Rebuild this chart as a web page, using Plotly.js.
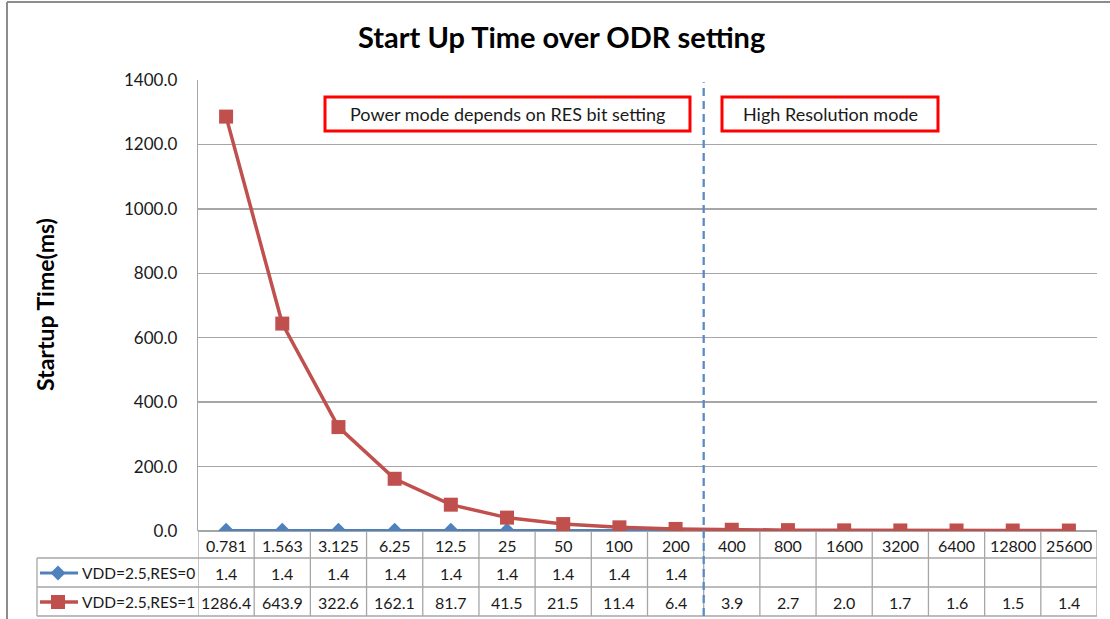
<!DOCTYPE html>
<html>
<head>
<meta charset="utf-8">
<script src="https://cdn.plot.ly/plotly-3.0.1.min.js"></script>
<style>html,body{margin:0;padding:0;background:#fff;}#chart{width:1110px;height:619px;}</style>
</head>
<body>
<div id="chart"></div>
<script>
const categories = ["0.781","1.563","3.125","6.25","12.5","25","50","100","200","400","800","1600","3200","6400","12800","25600"];
const seriesNames = ["VDD=2.5,RES=0","VDD=2.5,RES=1"];
const res0 = [1.4,1.4,1.4,1.4,1.4,1.4,1.4,1.4,1.4,null,null,null,null,null,null,null];
const res1 = [1286.4,643.9,322.6,162.1,81.7,41.5,21.5,11.4,6.4,3.9,2.7,2.0,1.7,1.6,1.5,1.4];
const yTicks = [0,200,400,600,800,1000,1200,1400];
const boxTexts = ["Power mode depends on RES bit setting","High Resolution mode"];

const FONT = "Lato, 'Noto Sans', sans-serif";
const BLUE = "#4F81BD", RED = "#C0504D", GRID = "#a6a6a6", TXT = "#1a1a1a";

// pixel -> paper helpers (plot area: x 198..1097, y 80..531)
const L = 198, R = 1097, T = 80, B = 531;
const px = v => (v - L) / (R - L);
const py = v => (B - v) / (B - T);

const traces = [
  {x: categories, y: res0, name: seriesNames[0], type: "scatter", mode: "lines+markers",
   line: {color: BLUE, width: 3}, marker: {symbol: "diamond", size: 12, color: BLUE}, connectgaps: false},
  {x: categories, y: res1, name: seriesNames[1], type: "scatter", mode: "lines+markers",
   line: {color: RED, width: 3.5}, marker: {symbol: "square", size: 14, color: RED}}
];

const shapes = [];
const annotations = [];
const n = categories.length;
const yHdrBot = py(558), yR1Bot = py(587), yR2Bot = py(616), yLegL = px(37);

function txt(xref, x, y, text, size, extra) {
  return Object.assign({xref: xref, yref: "paper", x: x, y: y, text: text, showarrow: false,
    xanchor: "center", yanchor: "middle", font: {family: FONT, size: size, color: TXT}}, extra || {});
}

// table vertical lines
for (let i = 0; i <= n; i++) {
  shapes.push({type: "line", xref: "x", yref: "paper", x0: i - 0.5, x1: i - 0.5, y0: 0, y1: yR2Bot,
    line: {color: GRID, width: 1.3}});
}
shapes.push({type: "line", xref: "paper", yref: "paper", x0: yLegL, x1: yLegL, y0: yHdrBot, y1: yR2Bot, line: {color: GRID, width: 1.3}});
[yHdrBot, yR1Bot, yR2Bot].forEach(yy => shapes.push({type: "line", xref: "paper", yref: "paper",
  x0: yLegL, x1: 1, y0: yy, y1: yy, line: {color: GRID, width: 1.3}}));

// table text
const rowsY = [py(545), py(573), py(602)];
categories.forEach((c, i) => {
  annotations.push(txt("x", i, rowsY[0], c, 16));
  if (res0[i] !== null) annotations.push(txt("x", i, rowsY[1], res0[i].toFixed(1), 16));
  if (res1[i] !== null) annotations.push(txt("x", i, rowsY[2], res1[i].toFixed(1), 16));
});

// legend keys
const keyColors = [BLUE, RED];
[1, 2].forEach((r, k) => {
  const yy = rowsY[r];
  shapes.push({type: "line", xref: "paper", yref: "paper", x0: px(40), x1: px(78), y0: yy, y1: yy,
    line: {color: keyColors[k], width: k ? 3.5 : 3}});
  const path = k === 0 ? "M -7.5 0 L 0 -7.5 L 7.5 0 L 0 7.5 Z" : "M -7 -7 L 7 -7 L 7 7 L -7 7 Z";
  shapes.push({type: "path", xref: "paper", yref: "paper", xsizemode: "pixel", ysizemode: "pixel",
    xanchor: px(58), yanchor: yy, path: path, fillcolor: keyColors[k], line: {width: 0}});
  annotations.push(txt("paper", px(80), yy, seriesNames[k], 15.5, {xanchor: "left"}));
});

// dashed separator
shapes.push({type: "line", xref: "x", yref: "paper", x0: 8.5, x1: 8.5, y0: yR2Bot, y1: 0.995,
  line: {color: "#5A8AC6", width: 2.3, dash: "8px,5px"}});

// red boxes
const boxes = [[325, 690], [722, 938]];
boxes.forEach((b, k) => {
  shapes.push({type: "rect", xref: "paper", yref: "paper", x0: px(b[0]), x1: px(b[1]), y0: py(131), y1: py(97),
    fillcolor: "#fff", line: {color: "#ff0000", width: 3}});
  annotations.push(txt("paper", px((b[0] + b[1]) / 2), py(114), boxTexts[k], 18));
});

// outer chart border (left and top)
shapes.push({type: "line", xref: "paper", yref: "paper", x0: px(7), x1: px(7), y0: py(2), y1: py(640), line: {color: "#8c8c8c", width: 2}});
shapes.push({type: "line", xref: "paper", yref: "paper", x0: px(7), x1: px(1115), y0: py(2), y1: py(2), line: {color: "#8c8c8c", width: 2}});

// y axis title
annotations.push(txt("paper", px(45), py(305), "<b>Startup Time(ms)</b>", 23, {textangle: -90, font: {family: FONT, size: 23, color: "#000"}}));

const layout = {
  width: 1110, height: 619,
  margin: {l: L, r: 1110 - R, t: T, b: 619 - B},
  paper_bgcolor: "#fff", plot_bgcolor: "#fff",
  showlegend: false,
  title: {text: "<b>Start Up Time over ODR setting</b>", x: 0.506, xref: "container", y: 1 - 38 / 619, yref: "container",
    xanchor: "center", yanchor: "middle", font: {family: FONT, size: 29, color: "#000"}},
  xaxis: {type: "category", range: [-0.5, n - 0.5], showticklabels: false, showgrid: false, zeroline: false,
    showline: false, ticks: "", fixedrange: true},
  yaxis: {range: [0, 1400], tickvals: yTicks, ticktext: yTicks.map(v => v.toFixed(1)), showgrid: true,
    gridcolor: GRID, gridwidth: 1.3, zeroline: true, zerolinecolor: GRID, zerolinewidth: 1.3,
    showline: true, linecolor: GRID, linewidth: 1.3, ticks: "", ticklabelstandoff: 16,
    tickfont: {family: FONT, size: 17, color: TXT}, fixedrange: true},
  shapes: shapes,
  annotations: annotations
};

Plotly.newPlot("chart", traces, layout, {displayModeBar: false, staticPlot: true});
</script>
</body>
</html>
